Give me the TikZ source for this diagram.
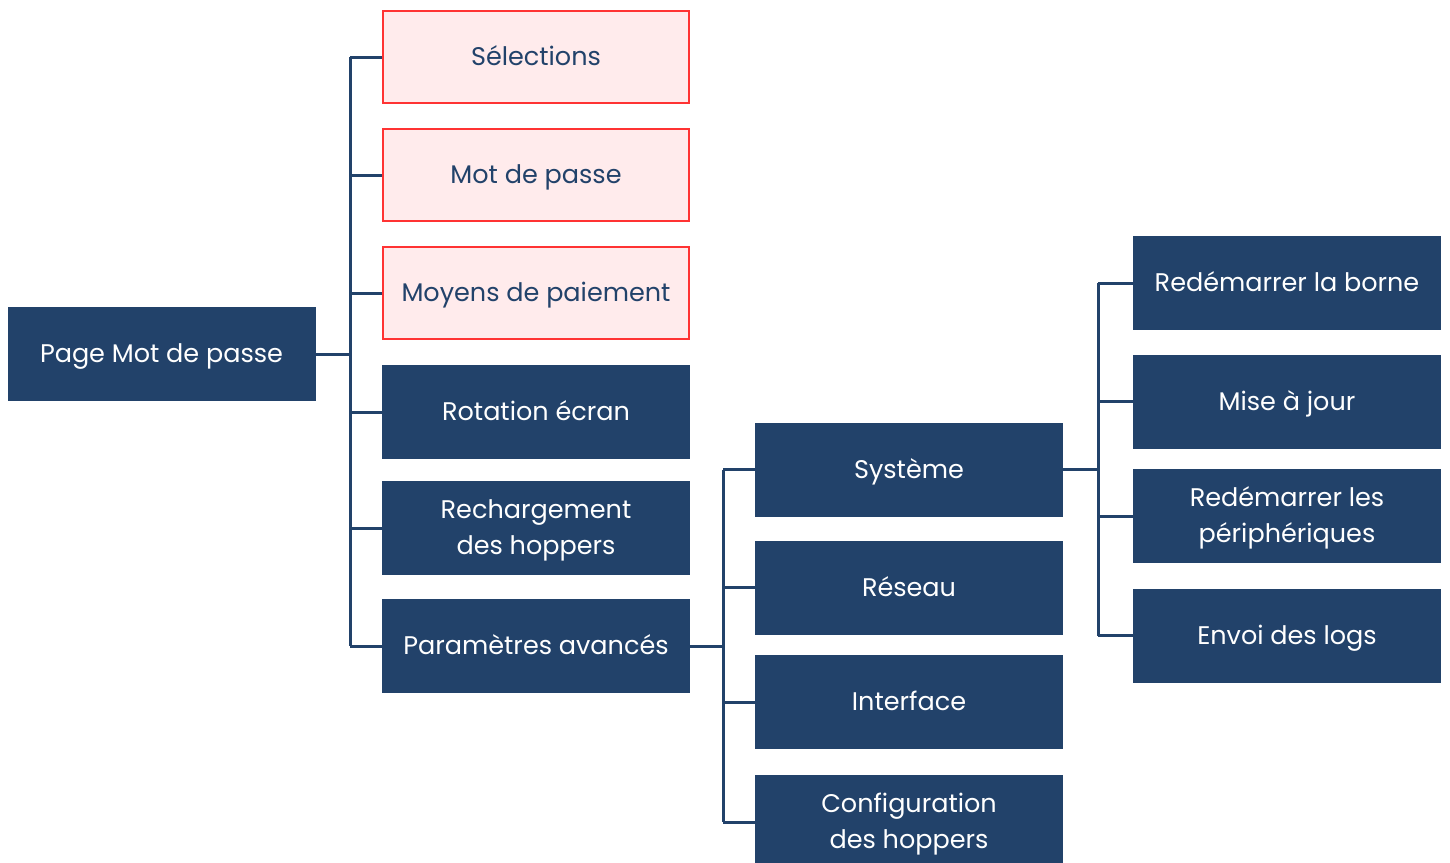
\documentclass[tikz,border=0pt]{standalone}
\usepackage{fontspec}
\setmainfont{Poppins}
\definecolor{navy}{RGB}{34,66,106}
\definecolor{redline}{RGB}{255,51,51}
\definecolor{pinkfill}{RGB}{255,235,236}
\tikzset{
  box/.style={draw=none, fill=navy, text=white, minimum width=308pt, minimum height=94pt,
    inner sep=0pt, align=center, font=\fontsize{25.5}{36}\selectfont,
    text height=22pt, text depth=5pt},
  twoline/.style={text height=58pt, text depth=5pt},
  redbox/.style={box, fill=pinkfill, draw=redline, line width=2pt, text=navy, minimum width=306pt, minimum height=92pt},
  conn/.style={draw=navy, line width=3pt}
}
\begin{document}
\begin{tikzpicture}[x=1pt,y=-1pt]
\useasboundingbox (0,0) rectangle (1450,862);
\node[box] (root) at (161.5,354) {Page Mot de passe};
% column 1
\node[redbox] (sel) at (536,57) {Sélections};
\node[redbox] (mdp) at (536,175) {Mot de passe};
\node[redbox] (moy) at (536,293) {Moyens de paiement};
\node[box] (rot) at (536,412) {Rotation écran};
\node[box,twoline] (rech) at (536,528) {Rechargement\\des hoppers};
\node[box] (par) at (536,646) {Paramètres avancés};
% column 2
\node[box] (sys) at (909,469.5) {Système};
\node[box] (res) at (909,587.5) {Réseau};
\node[box] (int) at (909,702) {Interface};
\node[box,twoline] (conf) at (909,822) {Configuration\\des hoppers};
% column 3
\node[box] (redb) at (1287,283) {Redémarrer la borne};
\node[box] (maj) at (1287,401.5) {Mise à jour};
\node[box,twoline] (redp) at (1287,516) {Redémarrer les\\périphériques};
\node[box] (env) at (1287,635.5) {Envoi des logs};
% buses
\coordinate (b1) at (350,0);
\coordinate (b2) at (723,0);
\coordinate (b3) at (1098,0);
\draw[conn] (root.east) -- (root.east -| b1);
\draw[conn] (b1 |- sel) -- (b1 |- par);
\foreach \n in {sel,mdp,moy,rot,rech,par} \draw[conn] (b1 |- \n) -- (\n.west);
\draw[conn] (par.east) -- (par.east -| b2);
\draw[conn] (b2 |- sys) -- (b2 |- conf);
\foreach \n in {sys,res,int,conf} \draw[conn] (b2 |- \n) -- (\n.west);
\draw[conn] (sys.east) -- (sys.east -| b3);
\draw[conn] (b3 |- redb) -- (b3 |- env);
\foreach \n in {redb,maj,redp,env} \draw[conn] (b3 |- \n) -- (\n.west);
\end{tikzpicture}
\end{document}
